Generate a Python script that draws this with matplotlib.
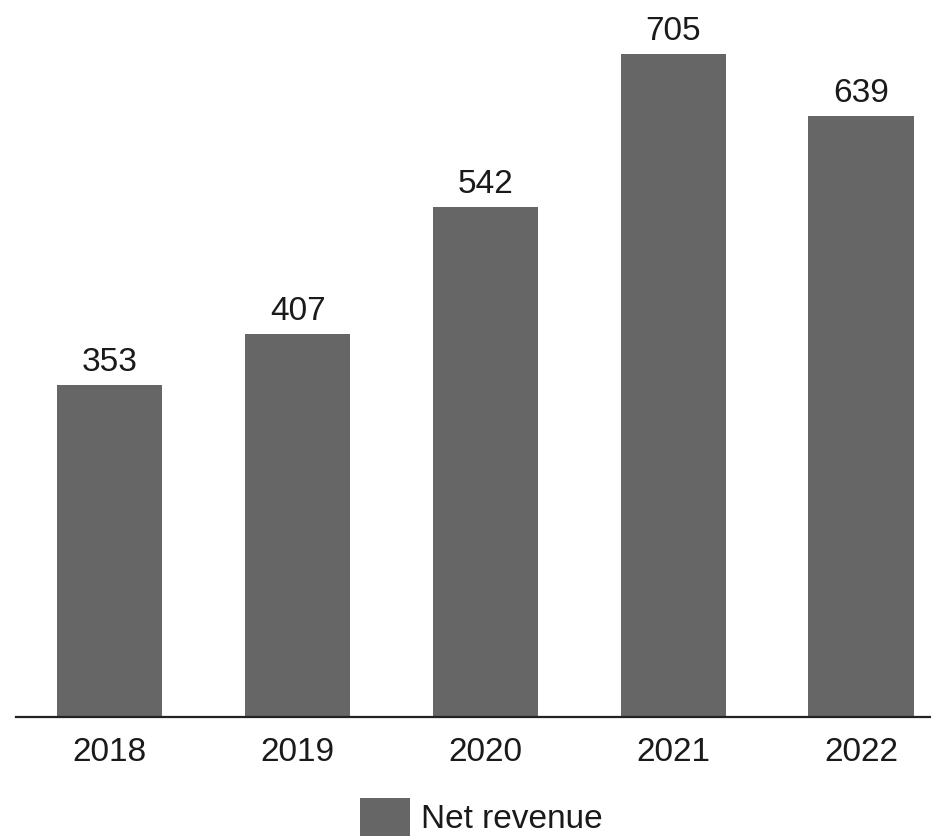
import matplotlib
matplotlib.use("Agg")
import matplotlib.pyplot as plt

years = ["2018", "2019", "2020", "2021", "2022"]
net_revenue = [353, 407, 542, 705, 639]

plt.rcParams["font.family"] = ["Liberation Sans", "DejaVu Sans"]

W, H = 931, 836
fig = plt.figure(figsize=(W / 100, H / 100), dpi=100)
ax = fig.add_axes([16 / W, 119 / H, (W - 16) / W, (H - 119) / H])

bar_color = "#666666"
x = range(len(years))
bars = ax.bar(x, net_revenue, width=0.56, color=bar_color, label="Net revenue")

for rect, val in zip(bars, net_revenue):
    ax.annotate(str(val), (rect.get_x() + rect.get_width() / 2, rect.get_height()),
                xytext=(0, 5), textcoords="offset points",
                ha="center", va="bottom", fontsize=24, color="#1a1a1a")

ax.set_xlim(-0.5, 4.373)
ax.set_ylim(0, 762)
ax.set_xticks(list(x))
ax.set_xticklabels(years, fontsize=24, color="#1a1a1a")
ax.tick_params(axis="x", length=0, pad=14.5)
ax.set_yticks([])
for side in ["top", "right", "left"]:
    ax.spines[side].set_visible(False)
ax.spines["bottom"].set_color("#222222")
ax.spines["bottom"].set_linewidth(1.6)

fig.legend(handles=[bars], labels=["Net revenue"], loc="upper left",
           bbox_to_anchor=(360 / W, 1 - 798 / H), frameon=False,
           fontsize=24, borderpad=0, borderaxespad=0,
           handlelength=1.5, handleheight=1.4, handletextpad=0.33,
           labelcolor="#1a1a1a")

fig.savefig("out.png", dpi=100)
